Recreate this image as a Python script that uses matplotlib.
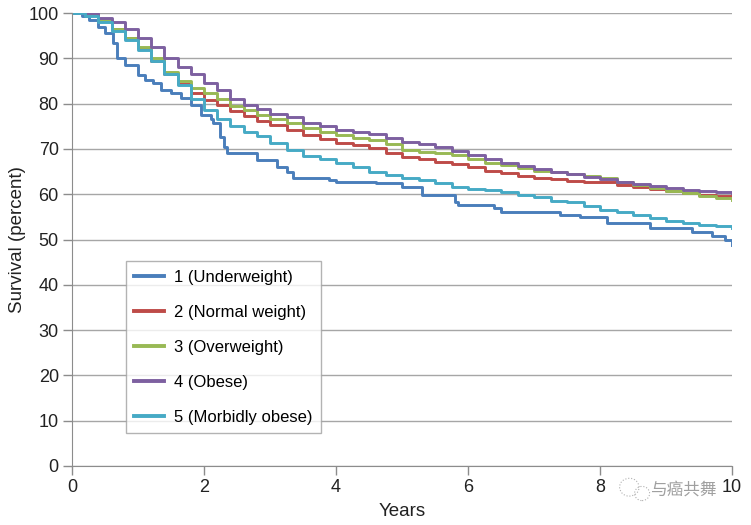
import matplotlib.pyplot as plt
from matplotlib.patches import Ellipse

plt.rcParams['font.family'] = ['Liberation Sans', 'Noto Sans CJK SC', 'DejaVu Sans']

# Kaplan-Meier style survival curves (years, percent)
t_under = [0, 0.15, 0.25, 0.4, 0.5, 0.62, 0.68, 0.8, 1.0, 1.1, 1.23, 1.35, 1.5, 1.65,
           1.8, 1.95, 2.1, 2.14, 2.24, 2.3, 2.35, 2.8, 3.1, 3.25, 3.35, 3.9, 4.0, 4.6,
           5.0, 5.3, 5.8, 5.85, 6.4, 6.5, 7.4, 7.7, 8.1, 8.75, 9.4, 9.7, 9.9, 10]
s_under = [100, 99.3, 98.5, 97, 95.6, 93.4, 90, 88.5, 86.3, 85.2, 84.5, 83, 82.3, 81.2,
           79.7, 77.5, 76.5, 75.7, 72.6, 70.5, 69, 67.5, 66, 64.8, 63.6, 63.2, 62.8, 62.5,
           61.5, 59.8, 58.3, 57.6, 57, 56, 55.4, 55, 53.6, 52.5, 51.6, 50.8, 49.9, 48.8]

t_grid = [0, 0.2, 0.4, 0.6, 0.8, 1.0, 1.2, 1.4, 1.6, 1.8, 2.0, 2.2, 2.4, 2.6, 2.8, 3.0,
          3.25, 3.5, 3.75, 4.0, 4.25, 4.5, 4.75, 5.0, 5.25, 5.5, 5.75, 6.0, 6.25, 6.5,
          6.75, 7.0, 7.25, 7.5, 7.75, 8.0, 8.25, 8.5, 8.75, 9.0, 9.25, 9.5, 9.75, 10]

s_normal = [100, 99.5, 98.3, 96.5, 94.5, 92.3, 89.5, 86.5, 84.3, 82.3, 80.8, 79.8, 78.3,
            77.3, 76.2, 75.2, 74.2, 73, 72.1, 71.3, 70.8, 70.2, 69.2, 68.2, 67.7, 67.2,
            66.6, 65.9, 65.2, 64.6, 64, 63.6, 63.3, 63, 62.8, 62.6, 62, 61.5, 61.1, 60.7,
            60.3, 59.9, 59.6, 59.3]
s_over = [100, 99.5, 98.5, 96.5, 94.5, 92.5, 90, 87, 85, 83.5, 82.3, 81, 79.5, 78.5,
          77.5, 76.7, 75.8, 74.7, 73.8, 73, 72.5, 72, 71, 69.8, 69.3, 69, 68.6, 67.8, 67,
          66.4, 65.8, 65.2, 64.8, 64.4, 64, 63.5, 62.8, 62, 61.3, 60.7, 60.2, 59.6, 59.1,
          58.7]
s_obese = [100, 100, 99, 98, 96.5, 94.5, 92.5, 90, 88, 86.5, 84.5, 83, 81, 79.8, 78.8,
           77.8, 77, 75.8, 75, 74.2, 73.8, 73.4, 72.5, 71.5, 71, 70.5, 69.6, 68.6, 67.8,
           67, 66.2, 65.5, 65, 64.5, 63.8, 63.3, 62.8, 62.3, 61.8, 61.4, 61, 60.7, 60.4,
           60.2]
s_morbid = [100, 99.3, 98, 96, 94, 91.8, 89.3, 86.5, 84, 81, 78.6, 76.6, 75, 73.8, 72.8,
            71.2, 69.8, 68.5, 67.8, 67, 66, 65, 64.2, 63.6, 63.2, 62.5, 61.6, 61.2, 61,
            60.5, 59.8, 59.3, 58.6, 58.2, 57.5, 56.5, 56, 55.5, 54.8, 54, 53.6, 53.3, 53,
            52.5]

labels = ['1 (Underweight)', '2 (Normal weight)', '3 (Overweight)', '4 (Obese)',
          '5 (Morbidly obese)']
colors = ['#4a7ebb', '#be4b48', '#98b954', '#7d60a0', '#46aac5']

fig = plt.figure(figsize=(7.51, 5.25), dpi=100)
ax = fig.add_axes([0.0959, 0.1124, 0.8788, 0.8628])

series = [(t_under, s_under), (t_grid, s_normal), (t_grid, s_over),
          (t_grid, s_obese), (t_grid, s_morbid)]
for (t, s), lab, col in zip(series, labels, colors):
    ax.plot(t, s, drawstyle='steps-post', color=col, lw=2.1, label=lab)

ax.set_xlim(0, 10)
ax.set_ylim(0, 100)
ax.set_xticks(range(0, 11, 2))
ax.set_yticks(range(0, 101, 10))
ax.grid(axis='y', color='#a6a6a6', lw=1)
ax.set_axisbelow(True)
for side in ['top', 'right']:
    ax.spines[side].set_visible(False)
for side in ['left', 'bottom']:
    ax.spines[side].set_color('#8c8c8c')
ax.tick_params(colors='#8c8c8c', labelcolor='#222222', labelsize=13, length=6.5,
               width=1, pad=3)
ax.set_xlabel('Years', fontsize=13.5, color='#222222', labelpad=5)
ax.set_ylabel('Survival (percent)', fontsize=13.5, color='#222222', labelpad=2)

leg = ax.legend(loc='lower left', bbox_to_anchor=(0.082, 0.073), fontsize=12,
                frameon=True, fancybox=False, edgecolor='#a0a0a0', handlelength=1.8,
                labelspacing=1.2, borderpad=0.5, handletextpad=0.6, borderaxespad=0)
leg.get_frame().set_linewidth(1)
for line in leg.get_lines():
    line.set_linewidth(2.8)

# watermark
fig.text(0.91, 0.067, '与癌共舞', fontsize=12, color='#a0a0a0',
         family=['Noto Sans CJK SC', 'DejaVu Sans'], ha='center', va='center')
fig.patches.append(Ellipse((0.838, 0.072), 0.026, 0.034, transform=fig.transFigure,
                           fill=False, ec='#b0b0b0', lw=0.8, ls=':'))
fig.patches.append(Ellipse((0.855, 0.060), 0.020, 0.027, transform=fig.transFigure,
                           fill=False, ec='#b0b0b0', lw=0.8, ls=':'))

fig.savefig('out.png', dpi=100)
